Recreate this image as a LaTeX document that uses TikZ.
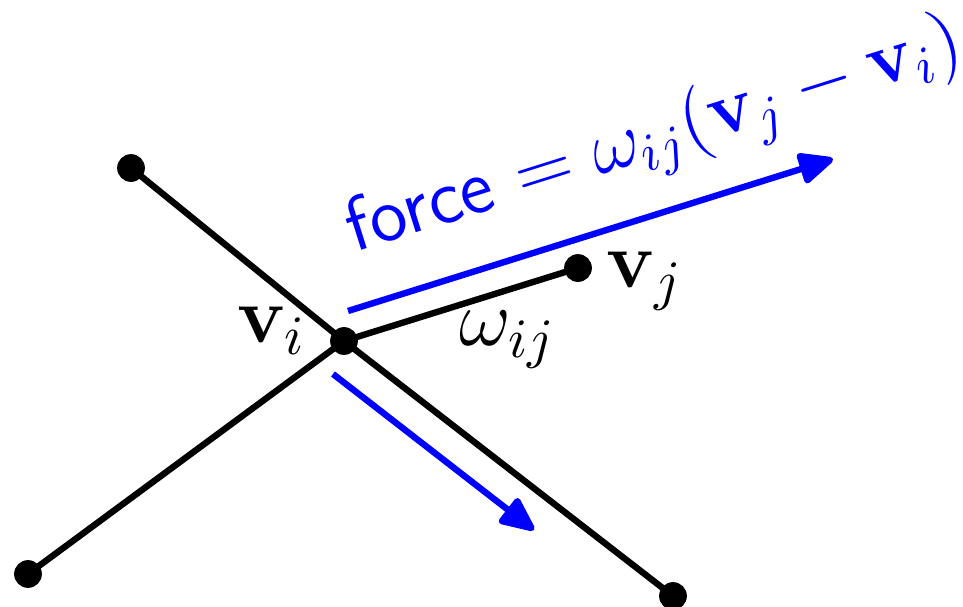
\documentclass[tikz,border=0pt]{standalone}
\usepackage{amsmath,amssymb}
\usepackage{tikz}
\usepackage{xcolor}
\usetikzlibrary{arrows.meta}

\begin{document}
\begin{tikzpicture}[x=0.18pt,y=-0.18pt,
  dot/.style={circle,fill=black,inner sep=0pt,minimum size=5pt},
  edge/.style={line width=1.15pt},
  force/.style={blue,line width=1.15pt,-{Triangle[round,length=7pt,width=6pt]}}]
\useasboundingbox (0,0) rectangle (963,607);
\node[dot] (vi) at (344,341) {};
\node[dot] (vj) at (578,268) {};
\node[dot] (va) at (131,168) {};
\node[dot] (vb) at (28,574) {};
\node[dot] (vc) at (673,596) {};
\draw[edge] (va.center) -- (vi.center) -- (vc.center);
\draw[edge] (vb.center) -- (vi.center) -- (vj.center);
\coordinate (fa) at (348,311);
\coordinate (fb) at (833,159);
\coordinate (ga) at (333,374);
\coordinate (gb) at (534,530);
\draw[force] (fa) -- (fb);
\draw[force] (ga) -- (gb);
\node (li) at (272,331) {\Large $\mathbf{v}_i$};
\node (lj) at (645,281) {\Large $\mathbf{v}_j$};
\node (lw) at (508,340) {\Large $\omega_{ij}$};
\node[blue,rotate=17.5,scale=0.96] (lf) at (655,139) {\Large \textsf{force} $=\omega_{ij}(\mathbf{v}_j-\mathbf{v}_i)$};
\end{tikzpicture}
\end{document}
